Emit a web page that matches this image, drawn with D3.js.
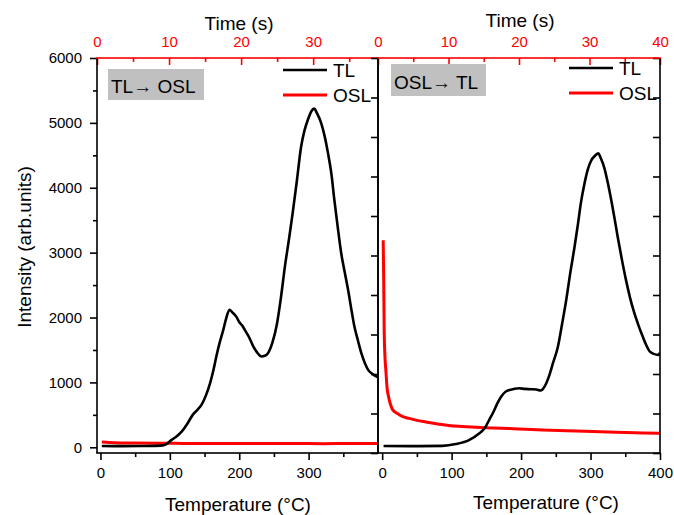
<!DOCTYPE html>
<html>
<head>
<meta charset="utf-8">
<script src="https://cdn.jsdelivr.net/npm/d3@7"></script>
<style>
  body { margin: 0; background: #fff; }
  svg text { font-family: "Liberation Sans", Arial, sans-serif; }
</style>
</head>
<body>
<svg id="canvas" width="674" height="515"></svg>
<script>
// TL glow curve after OSL readout, left panel (temperature, intensity)
let tlLeft = [[2,20],[30,18],[60,20],[87,25],[95,50],[102,110],[110,170],[117,240],[125,360],[133,500],[140,580],[146,660],[152,800],[158,990],[163,1200],[167,1400],[172,1620],[177,1810],[181,1980],[186,2120],[190,2080],[193,2050],[196,2010],[200,1930],[204,1880],[208,1810],[214,1700],[220,1560],[226,1460],[232,1400],[237,1410],[242,1460],[248,1620],[254,1880],[260,2300],[266,2800],[272,3230],[277,3610],[283,4100],[289,4620],[294,4880],[299,5050],[304,5180],[308,5220],[312,5150],[318,5000],[323,4800],[328,4530],[333,4200],[337,3820],[342,3390],[347,2990],[352,2700],[357,2420],[362,2100],[366,1860],[371,1650],[376,1450],[381,1300],[386,1190],[392,1130],[398,1090],[400,1080]]
let oslLeft = [[2,80],[20,70],[50,65],[80,62],[120,60],[160,58],[200,60],[240,57],[280,58],[320,56],[360,58],[400,57]]

// right panel
let tlRight = [[2,20],[40,18],[87,22],[106,50],[125,110],[140,215],[148,300],[154,420],[160,540],[166,680],[172,790],[178,860],[181,875],[190,900],[197,910],[205,900],[214,895],[222,890],[228,875],[234,940],[240,1090],[246,1300],[253,1550],[259,1900],[265,2270],[271,2700],[277,3090],[282,3450],[286,3760],[291,4050],[296,4280],[301,4420],[306,4490],[311,4530],[315,4450],[320,4300],[325,4070],[330,3800],[335,3500],[339,3250],[345,2900],[351,2580],[357,2300],[363,2070],[369,1880],[375,1710],[380,1580],[385,1480],[391,1440],[398,1425],[400,1460]]
let oslRight = [[1.5,3190],[2.2,2600],[2.9,1810],[4,1400],[5.3,1190],[7,920],[9.2,780],[12,660],[15,580],[22,520],[29,475],[39,445],[50,415],[63,390],[80,360],[96,335],[115,320],[135,308],[160,298],[183,288],[207,278],[231,268],[255,258],[279,251],[303,244],[327,236],[350,228],[375,222],[400,215]]

// ticks
let yMajor = [0, 1000, 2000, 3000, 4000, 5000, 6000]
let yMinor = [500, 1500, 2500, 3500, 4500, 5500]
let tempMajor = [0, 100, 200, 300, 400]
let tempMinor = [50, 150, 250, 350]
let timeMajor = [0, 10, 20, 30, 40]
let timeMinor = [5, 15, 25, 35]
let rightTicks = d3.range(0, 5001, 500)

let plotTop = 58
let plotBottom = 453

let canvas = d3.select('#canvas')

let y = d3.scaleLinear().domain([-88, 6000]).range([plotBottom, plotTop])
let yR = d3.scaleLinear().domain([0, 5000]).range([plotBottom, plotTop])

let panels = [
    { x0: 97, x1: 378, temp: [-5, 400], tempMax: 300, time: [0, 39], tl: tlLeft, osl: oslLeft,
      box: 'TL\u2192 OSL', boxX: 108, boxY: 69, boxW: 96, boxH: 31,
      legX: 283, legY: 70, timeTitle: [239, 30], tempTitle: [238, 511] },
    { x0: 378, x1: 660, temp: [-6, 400], tempMax: 400, time: [0, 40], tl: tlRight, osl: oslRight,
      box: 'OSL\u2192 TL', boxX: 391, boxY: 64, boxW: 95, boxH: 32,
      legX: 569, legY: 68, timeTitle: [520, 27], tempTitle: [546, 509] }
]

// d3 ticks are redrawn as thin filled paths so they show up at 1-2 px
let styleAxis = (g, color) => {
    g.select('.domain').remove()
    g.selectAll('.tick line').each(function () {
        let l = d3.select(this)
        let x2 = +l.attr('x2') || 0
        let y2 = +l.attr('y2') || 0
        let w = 1.6
        let d = x2 === 0
            ? `M${-w / 2},${Math.min(0, y2)}h${w}v${Math.abs(y2)}h${-w}Z`
            : `M${Math.min(0, x2)},${-w / 2}h${Math.abs(x2)}v${w}h${-Math.abs(x2)}Z`
        d3.select(this.parentNode).insert('path', 'line').attr('d', d).attr('fill', color)
        l.remove()
    })
    g.selectAll('text').attr('fill', color).style('font-size', '15px')
}

let frameRect = (g, x, y0, w, h, color) => {
    g.append('rect').attr('x', x).attr('y', y0).attr('width', w).attr('height', h).attr('fill', color)
}

let drawPanel = (p, i) => {
    let x = d3.scaleLinear().domain(p.temp).range([p.x0, p.x1])
    let xt = d3.scaleLinear().domain(p.time).range([p.x0, p.x1])
    let g = canvas.append('g')

    g.append('clipPath').attr('id', 'clip' + i)
        .append('rect').attr('x', p.x0).attr('y', plotTop).attr('width', p.x1 - p.x0).attr('height', plotBottom - plotTop)

    let line = d3.line().x(d => x(d[0])).y(d => y(d[1])).curve(d3.curveMonotoneX)

    g.append('path').datum(p.osl)
        .attr('d', line).attr('fill', 'none').attr('stroke', '#ff0000').attr('stroke-width', 3)
        .attr('clip-path', 'url(#clip' + i + ')')
    g.append('path').datum(p.tl)
        .attr('d', line).attr('fill', 'none').attr('stroke', '#000').attr('stroke-width', 2.6)
        .attr('stroke-linejoin', 'round')
        .attr('clip-path', 'url(#clip' + i + ')')

    // bottom temperature axis
    g.append('g').attr('transform', `translate(0,${plotBottom})`)
        .call(d3.axisBottom(x).tickValues(tempMinor).tickSize(4).tickFormat(''))
        .call(a => styleAxis(a, '#000'))
    g.append('g').attr('transform', `translate(0,${plotBottom})`)
        .call(d3.axisBottom(x).tickValues(tempMajor.filter(v => v <= p.tempMax)).tickSize(7).tickPadding(7))
        .call(a => styleAxis(a, '#000'))

    // top time axis, red, ticks inside
    g.append('g').attr('transform', `translate(0,${plotTop})`)
        .call(d3.axisTop(xt).tickValues(timeMinor).tickSize(-4).tickFormat(''))
        .call(a => styleAxis(a, '#ff0000'))
    g.append('g').attr('transform', `translate(0,${plotTop})`)
        .call(d3.axisTop(xt).tickValues(timeMajor.filter(v => v <= p.time[1])).tickSize(-7).tickPadding(11))
        .call(a => styleAxis(a, '#ff0000'))

    if (i === 0) {
        g.append('g').attr('transform', `translate(${p.x0},0)`)
            .call(d3.axisLeft(y).tickValues(yMinor).tickSize(4).tickFormat(''))
            .call(a => styleAxis(a, '#000'))
        g.append('g').attr('transform', `translate(${p.x0},0)`)
            .call(d3.axisLeft(y).tickValues(yMajor).tickSize(7).tickPadding(8).tickFormat(d3.format('d')))
            .call(a => styleAxis(a, '#000'))
    } else {
        g.append('g').attr('transform', `translate(${p.x0},0)`)
            .call(d3.axisLeft(yR).tickValues(rightTicks).tickSize(7).tickFormat(''))
            .call(a => styleAxis(a, '#000'))
        g.append('g').attr('transform', `translate(${p.x1},0)`)
            .call(d3.axisRight(yR).tickValues(rightTicks).tickSize(-7).tickFormat(''))
            .call(a => styleAxis(a, '#000'))
    }

    // frame (filled strips)
    let w = 1.6
    frameRect(g, p.x0 - w / 2, plotTop, w, plotBottom - plotTop, '#000')
    frameRect(g, p.x1 - w / 2, plotTop, w, plotBottom - plotTop, '#000')
    frameRect(g, p.x0 - w / 2, plotBottom - w / 2, p.x1 - p.x0 + w, w, '#000')
    frameRect(g, p.x0 - w / 2, plotTop - w / 2, p.x1 - p.x0 + w, w, '#ff0000')

    // grey label box
    g.append('rect').attr('x', p.boxX).attr('y', p.boxY).attr('width', p.boxW).attr('height', p.boxH)
        .attr('fill', '#c0c0c0')
    g.append('text').attr('x', p.boxX + 3).attr('y', p.boxY + p.boxH - 7)
        .style('font-size', '19px').attr('fill', '#000').text(p.box)

    // legend
    let legend = [['TL', '#000', 2.6], ['OSL', '#ff0000', 3]]
    legend.forEach((l, k) => {
        let ly = p.legY + k * 25
        g.append('line').attr('x1', p.legX).attr('x2', p.legX + 44).attr('y1', ly).attr('y2', ly)
            .attr('stroke', l[1]).attr('stroke-width', l[2])
        g.append('text').attr('x', p.legX + 50).attr('y', ly + 7)
            .style('font-size', '19px').attr('fill', '#000').text(l[0])
    })

    g.append('text').attr('x', p.timeTitle[0]).attr('y', p.timeTitle[1])
        .attr('text-anchor', 'middle').style('font-size', '19px').text('Time (s)')
    g.append('text').attr('x', p.tempTitle[0]).attr('y', p.tempTitle[1])
        .attr('text-anchor', 'middle').style('font-size', '19px').text('Temperature (\u00B0C)')
}

panels.forEach((p, i) => drawPanel(p, i))

canvas.append('text')
    .attr('transform', 'translate(31,247) rotate(-90)')
    .attr('text-anchor', 'middle').style('font-size', '19px')
    .text('Intensity (arb.units)')
</script>
</body>
</html>
